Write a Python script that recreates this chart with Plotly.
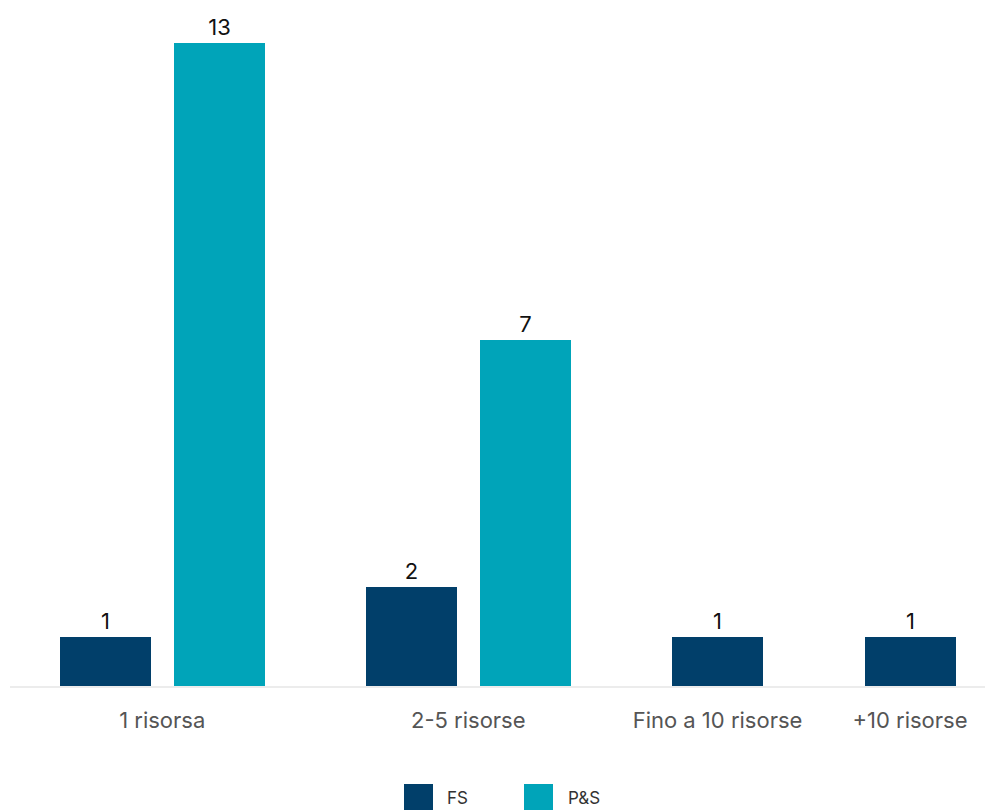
import plotly.graph_objects as go

categories = ["1 risorsa", "2-5 risorse", "Fino a 10 risorse", "+10 risorse"]
series_names = ["FS", "P&S"]
fs_values = [1, 2, 1, 1]
ps_values = [13, 7, None, None]
colors = {"FS": "#013F6A", "P&S": "#00A4B9"}

W, H = 985, 810
ML, MR, MT, MB = 10, 0, 43, 124
BAR_W, INNER_GAP, GROUP_GAP, PAD_L = 91, 22.5, 101.5, 50

# Compute bar slot positions: empty values take no space (as in the reference)
series_vals = {"FS": fs_values, "P&S": ps_values}
pos = {s: [] for s in series_names}
tick_pos = []
cursor = 0.0
for i, cat in enumerate(categories):
    centers = []
    for s in series_names:
        v = series_vals[s][i]
        if v is None:
            pos[s].append(None)
            continue
        c = cursor + BAR_W / 2
        pos[s].append(c)
        centers.append(c)
        cursor += BAR_W + INNER_GAP
    cursor += GROUP_GAP - INNER_GAP
    tick_pos.append(sum(centers) / len(centers))

pw = W - ML - MR
ph = H - MT - MB

fig = go.Figure()
for s in series_names:
    xs = [p for p, v in zip(pos[s], series_vals[s]) if v is not None]
    ys = [v for v in series_vals[s] if v is not None]
    fig.add_trace(go.Bar(
        x=xs, y=ys, name=s, width=BAR_W,
        marker=dict(color=colors[s], line=dict(width=0)),
        text=[str(v) for v in ys], textposition="outside",
        textfont=dict(family="Inter", size=22, color="#111111"),
        cliponaxis=False, showlegend=False, hoverinfo="skip",
    ))

fig.update_layout(
    width=W, height=H,
    margin=dict(l=ML, r=MR, t=MT, b=MB),
    paper_bgcolor="white", plot_bgcolor="white",
    bargap=0, showlegend=False,
    font=dict(family="Inter", color="#555555"),
)
fig.update_xaxes(
    range=[-PAD_L, -PAD_L + pw],
    tickmode="array", tickvals=tick_pos, ticktext=categories,
    tickfont=dict(family="Inter", size=22, color="#555555"),
    ticks="outside", ticklen=14, tickcolor="rgba(0,0,0,0)",
    showline=True, linecolor="#ECECEC", linewidth=2,
    showgrid=False, zeroline=False, fixedrange=True,
)
fig.update_yaxes(range=[0, 13], visible=False, showgrid=False, zeroline=False, fixedrange=True)

# Custom legend (large square swatches, as in the reference)
def px_x(x):
    return (x - ML) / pw
def px_y(y):
    return (H - MB - y) / ph

legend_items = [("FS", 404, 445), ("P&S", 524, 566)]
for name, sx, tx in legend_items:
    fig.add_shape(type="rect", xref="paper", yref="paper",
                  x0=px_x(sx), x1=px_x(sx + 29), y0=px_y(784), y1=px_y(813),
                  fillcolor=colors[name], line=dict(width=0), layer="above")
    fig.add_annotation(xref="paper", yref="paper", x=px_x(tx), y=px_y(798),
                       text=name, showarrow=False, xanchor="left", yanchor="middle",
                       font=dict(family="Inter", size=17, color="#333333"))

fig.write_html("out.html", config={"displayModeBar": False},
               post_script="document.body.style.margin='0';")
